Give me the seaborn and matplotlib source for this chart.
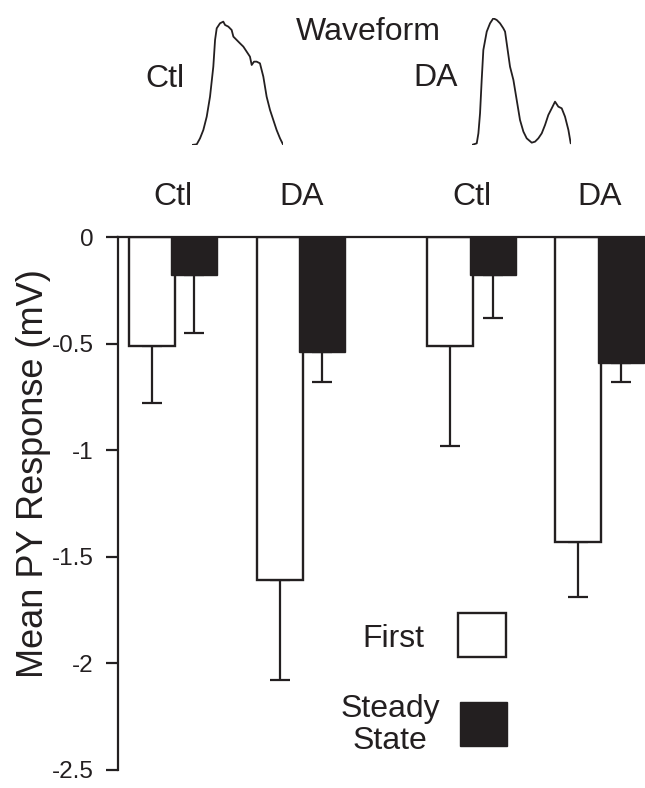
import numpy as np
import pandas as pd
import seaborn as sns
import matplotlib.pyplot as plt
from matplotlib.patches import Rectangle

# bar data (mV)
condition = ["Ctl", "DA", "Ctl", "DA"]
experiment = [0, 0, 1, 1]
first_mean = [-0.51, -1.61, -0.51, -1.43]
first_sem = [0.27, 0.47, 0.47, 0.26]
steady_mean = [-0.18, -0.54, -0.18, -0.59]
steady_sem = [0.27, 0.14, 0.20, 0.09]

# waveform traces (time in ms, amplitude in arbitrary units)
ctl_t = [0, 0.55, 0.91, 1.27, 1.64, 2.0, 2.36, 2.55, 2.73, 3.09, 3.45, 3.64, 4.0, 4.36,
         4.55, 4.91, 5.27, 5.64, 6.0, 6.36, 6.55, 6.8, 7.09, 7.45, 7.82, 8.18, 8.55,
         8.91, 9.27, 9.64, 10.0]
ctl_amp = [0, 0.02, 0.20, 0.45, 0.85, 1.45, 2.35, 3.15, 3.5, 3.65, 3.7, 3.6, 3.55, 3.45,
           3.25, 3.15, 3.05, 2.95, 2.8, 2.65, 2.4, 2.5, 2.5, 2.45, 2.05, 1.45, 1.05,
           0.75, 0.45, 0.2, 0]
da_t = [0, 0.55, 0.73, 0.91, 1.09, 1.27, 1.64, 2.0, 2.36, 2.73, 3.09, 3.45, 3.64, 3.82,
        4.18, 4.55, 4.91, 5.27, 5.64, 6.0, 6.55, 6.91, 7.27, 7.64, 8.0, 8.36, 8.73,
        9.09, 9.45, 9.82, 10.18, 10.55, 10.8]
da_amp = [0, 0.05, 0.35, 0.95, 1.95, 2.85, 3.4, 3.65, 3.8, 3.75, 3.65, 3.5, 3.4, 3.05,
          2.35, 1.95, 1.35, 0.75, 0.4, 0.2, 0.07, 0.1, 0.2, 0.35, 0.6, 0.9, 1.1,
          1.3, 1.15, 1.1, 0.85, 0.45, 0.05]

group_step = 2.33
ss_shift = 0.33
bar_w = 0.36
black = "#231f20"

sns.set_theme(style="white")
plt.rcParams["font.family"] = ["Liberation Sans", "DejaVu Sans"]
plt.rcParams["text.color"] = black

df = pd.DataFrame({
    "condition": condition,
    "first": first_mean,
    "first_sem": first_sem,
    "steady": steady_mean,
    "steady_sem": steady_sem,
})
df["pos"] = np.array(experiment) * group_step + np.array([0 if c == "Ctl" else 1 for c in condition])
df["pos_ss"] = df["pos"] + ss_shift

W, H = 645, 788
fig = plt.figure(figsize=(W / 100, H / 100), dpi=100)
ax = fig.add_axes([118 / W, 1 - 770 / H, (W - 118) / W, (770 - 237) / H])

ax.errorbar(df["pos"], df["first"], yerr=[df["first_sem"], np.zeros(len(df))],
            fmt="none", ecolor=black, elinewidth=1.6, capsize=7, capthick=1.6, zorder=1)
ax.errorbar(df["pos_ss"], df["steady"], yerr=[df["steady_sem"], np.zeros(len(df))],
            fmt="none", ecolor=black, elinewidth=1.6, capsize=7, capthick=1.6, zorder=1)

sns.barplot(data=df, x="pos", y="first", native_scale=True, orient="x", width=bar_w,
            color="white", edgecolor=black, linewidth=1.7, saturation=1, ax=ax, zorder=2)
sns.barplot(data=df, x="pos_ss", y="steady", native_scale=True, orient="x", width=bar_w,
            color=black, edgecolor=black, linewidth=1.0, saturation=1, ax=ax, zorder=3)

ax.set_xlim(-0.266, 3.85)
ax.set_ylim(-2.5, 0)
ax.set_yticks([0, -0.5, -1, -1.5, -2, -2.5])
ax.set_yticklabels(["0", "-0.5", "-1", "-1.5", "-2", "-2.5"])
ax.tick_params(axis="y", direction="out", length=8.5, width=1.6, pad=9, labelsize=17.5,
               left=True, colors=black)
ax.xaxis.tick_top()
ax.set_xticks(df["pos"] + ss_shift / 2)
ax.set_xticklabels(df["condition"])
ax.tick_params(axis="x", length=0, pad=18, labelsize=23, colors=black)
ax.set_xlabel("")
ax.set_ylabel("")
for side in ["right", "bottom"]:
    ax.spines[side].set_visible(False)
for side in ["left", "top"]:
    ax.spines[side].set_color(black)
    ax.spines[side].set_linewidth(1.6)

fig.text(34 / W, 1 - 474 / H, "Mean PY Response (mV)", rotation=90, ha="center",
         va="center", fontsize=26)

# waveform insets
ax_c = fig.add_axes([191.7 / W, 1 - 145 / H, 91.6 / W, 126.7 / H])
sns.lineplot(x=ctl_t, y=ctl_amp, sort=False, color=black, lw=1.3, ax=ax_c)
ax_c.set_xlim(0, 10)
ax_c.set_ylim(0, 3.8)
ax_c.axis("off")

ax_d = fig.add_axes([471.7 / W, 1 - 145 / H, 99 / W, 126.7 / H])
sns.lineplot(x=da_t, y=da_amp, sort=False, color=black, lw=1.3, ax=ax_d)
ax_d.set_xlim(0, 10.8)
ax_d.set_ylim(0, 3.8)
ax_d.axis("off")

fig.text(368 / W, 1 - 40 / H, "Waveform", ha="center", va="baseline", fontsize=23)
fig.text(165 / W, 1 - 87 / H, "Ctl", ha="center", va="baseline", fontsize=23)
fig.text(436 / W, 1 - 86 / H, "DA", ha="center", va="baseline", fontsize=23)

# legend, drawn by hand to get centred labels left of the swatches
fig.add_artist(Rectangle((458 / W, 1 - 657 / H), 48 / W, 44 / H, transform=fig.transFigure,
                         facecolor="white", edgecolor=black, lw=1.7))
fig.add_artist(Rectangle((460 / W, 1 - 746 / H), 47 / W, 44 / H, transform=fig.transFigure,
                         facecolor=black, edgecolor=black, lw=1.0))
fig.text(393 / W, 1 - 647 / H, "First", ha="center", va="baseline", fontsize=23)
fig.text(390 / W, 1 - 749 / H, "Steady\nState", ha="center", va="baseline", fontsize=23,
         multialignment="center", linespacing=1.1)

fig.savefig("out.png", dpi=100)
